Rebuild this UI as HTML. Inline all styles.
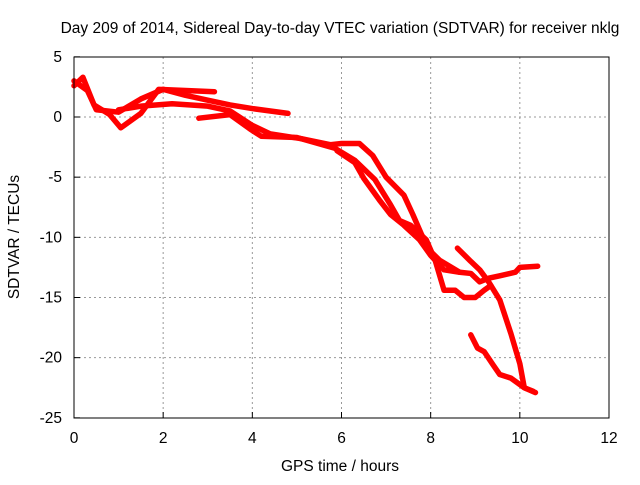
<!DOCTYPE html>
<html><head><meta charset="utf-8"><style>
body{margin:0;background:#fff}
svg text{font-family:"Liberation Sans",sans-serif;font-size:15.5px;fill:#000}
</style></head><body>
<svg width="640" height="480" id="c">
<text x="340" y="33" text-anchor="middle">Day 209 of 2014, Sidereal Day-to-day VTEC variation (SDTVAR) for receiver nklg</text>
<text x="340" y="471" text-anchor="middle">GPS time / hours</text>
<text x="0" y="0" transform="translate(19,237) rotate(-90)" text-anchor="middle">SDTVAR / TECUs</text>
<g id="grid"></g><g id="marks"></g>
<rect x="74" y="57" width="535" height="361" fill="none" stroke="#000"/>
</svg>
<script>
const xTicks=[0,2,4,6,8,10,12];
const yTicks=[5,0,-5,-10,-15,-20,-25];
const trackA=[[0,2.6],[0.2,3.3],[0.45,1],[0.8,0.2],[1.05,-0.9],[1.5,0.3],[1.9,2.3],[2.5,2.2],[3.15,2.1]];
const trackB=[[0,3],[0.3,2.2],[0.5,0.6],[1,0.4],[1.5,1.5],[2,2.3],[2.5,1.8],[3,1.4],[3.5,1.0],[4,0.7],[4.8,0.3]];
const trackC=[[1,0.6],[1.5,0.9],[2.2,1.1],[3,0.9],[3.5,0.5],[4,-0.7],[4.4,-1.4],[5.1,-1.8],[5.75,-2.3],[6,-2.2],[6.4,-2.2],[6.7,-3.2],[7,-5],[7.4,-6.5],[7.6,-8.1],[7.8,-9.8],[7.95,-11],[8.2,-11.9],[8.65,-12.9],[8.9,-13],[9.1,-13.7],[9.3,-13.4],[9.55,-13.2],[9.9,-12.9],[10,-12.5],[10.4,-12.4]];
const trackD=[[2.8,-0.1],[3.5,0.2],[3.95,-1],[4.2,-1.6],[5,-1.7],[5.85,-2.6],[6.3,-3.6],[6.75,-5.2],[7.1,-7.3],[7.3,-8.6],[7.55,-9],[7.9,-10.2],[8.1,-11.9],[8.3,-14.4],[8.55,-14.4],[8.75,-15],[9,-15],[9.2,-14.4],[9.35,-14]];
const trackE=[[5.9,-2.8],[6.3,-3.8],[6.5,-5.1],[6.85,-6.9],[7.1,-8.1],[7.4,-9],[7.75,-10.2],[8,-11.5],[8.3,-12.7],[8.65,-12.9]];
const trackG=[[8.6,-10.9],[8.9,-12],[9.1,-12.7],[9.3,-13.7],[9.55,-15.2],[9.8,-18],[10,-20.5],[10.1,-22.5],[10.35,-22.9]];
const trackH=[[8.9,-18.1],[9.05,-19.2],[9.2,-19.5],[9.4,-20.6],[9.55,-21.4],[9.8,-21.7],[10.1,-22.5],[10.3,-22.8]];
const tracks=[trackA,trackB,trackC,trackD,trackE,trackG,trackH];
const X=v=>74+v*(535/12), Y=v=>117-v*(361/30);
const NS="http://www.w3.org/2000/svg";
const g=document.getElementById('grid'), m=document.getElementById('marks');
function mk(t,a,p){const e=document.createElementNS(NS,t);for(const k in a)e.setAttribute(k,a[k]);p.appendChild(e);return e;}
xTicks.forEach(t=>{const x=X(t);
 if(t>0&&t<12){const l=mk('line',{x1:x,x2:x,y1:57,y2:418,stroke:'#999','stroke-dasharray':'2,3'},g);}
 const tk=mk('line',{x1:x,x2:x,y1:418,y2:412,stroke:'#000'},g);
 const tx=mk('text',{x:x,y:443,'text-anchor':'middle'},g);tx.textContent=t;});
yTicks.forEach(t=>{const y=Y(t);
 if(t<5&&t>-25){const l=mk('line',{x1:74,x2:609,y1:y,y2:y,stroke:'#999','stroke-dasharray':'2,3'},g);}
 const tk=mk('line',{x1:74,x2:80,y1:y,y2:y,stroke:'#000'},g);
 const tx=mk('text',{x:62,y:y+5,'text-anchor':'end'},g);tx.textContent=t;});
tracks.forEach(tr=>{const p=mk('polyline',{points:tr.map(d=>X(d[0])+','+Y(d[1])).join(' '),fill:'none',stroke:'#f00','stroke-width':5.5,'stroke-linejoin':'round','stroke-linecap':'round'},m);
 
 });
</script>
</body></html>
